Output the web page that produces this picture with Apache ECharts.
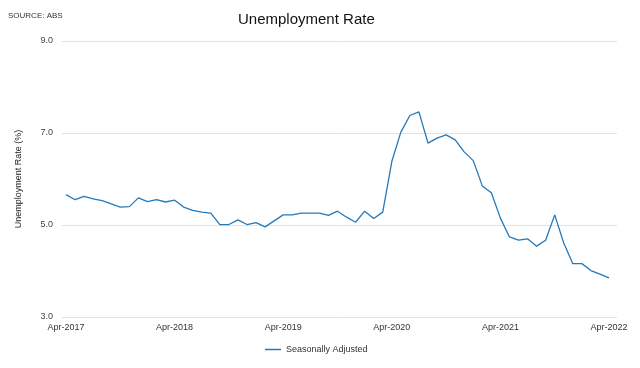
<!DOCTYPE html>
<html>
<head>
<meta charset="utf-8">
<script src="https://cdn.jsdelivr.net/npm/echarts@6/dist/echarts.min.js"></script>
<style>html,body{margin:0;padding:0;background:#fff}#c{width:640px;height:368px}</style>
</head>
<body>
<div id="c"></div>
<script>
var months = [];
var monthNames = ['Jan','Feb','Mar','Apr','May','Jun','Jul','Aug','Sep','Oct','Nov','Dec'];
var startYear = 2017, startMonth = 3, monthCount = 61;
for (var i = 0; i < monthCount; i++) {
  var m = startMonth + i;
  months.push(monthNames[m % 12] + '-' + (startYear + Math.floor(m / 12)));
}
var seasonallyAdjusted = [
  5.66, 5.55, 5.62, 5.57, 5.53, 5.46, 5.39, 5.40, 5.59,
  5.51, 5.55, 5.50, 5.54, 5.39, 5.32, 5.28, 5.26, 5.01, 5.01, 5.11, 5.01,
  5.05, 4.96, 5.09, 5.22, 5.22, 5.26, 5.26, 5.26, 5.21, 5.30, 5.17, 5.06,
  5.30, 5.14, 5.28, 6.38, 7.02, 7.38, 7.46, 6.78, 6.89, 6.96, 6.85, 6.59,
  6.40, 5.85, 5.70, 5.15, 4.74, 4.67, 4.70, 4.54, 4.67, 5.22, 4.61, 4.16,
  4.16, 4.01, 3.93, 3.85
];
var yTicks = [3.0, 5.0, 7.0, 9.0];
var titleText = 'Unemployment Rate';
var sourceText = 'SOURCE: ABS';
var yAxisName = 'Unemployment Rate (%)';
var seriesName = 'Seasonally Adjusted';

var chart = echarts.init(document.getElementById('c'));
var font = 'Liberation Sans, Arial, sans-serif';
var yMin = yTicks[0], yMax = yTicks[yTicks.length - 1];
chart.setOption({
  animation: false,
  textStyle: { fontFamily: font },
  title: [
    { text: titleText, left: 233, top: 7, textStyle: { fontFamily: font, fontSize: 15, fontWeight: 'normal', color: '#111' } },
    { text: sourceText, left: 3, top: 7, textStyle: { fontFamily: font, fontSize: 8, fontWeight: 'normal', color: '#333' } }
  ],
  legend: {
    bottom: 9, left: 260,
    icon: 'rect', itemWidth: 16, itemHeight: 1.5, itemGap: 4,
    textStyle: { fontFamily: font, fontSize: 9, color: '#333' },
    data: [seriesName]
  },
  grid: [
    { left: 66, right: 31, top: 41, bottom: 51, containLabel: false },
    { left: 62, right: 23, top: 41, bottom: 51, containLabel: false }
  ],
  xAxis: [{
    type: 'category', data: months, boundaryGap: false, gridIndex: 0,
    axisLine: { show: false }, axisTick: { show: false },
    axisLabel: { interval: 11, margin: 6, fontSize: 9, color: '#333', fontFamily: font },
    splitLine: { show: false }
  }, {
    type: 'value', gridIndex: 1, show: false, min: 0, max: 1
  }],
  yAxis: [{
    type: 'value', min: yMin, max: yMax, interval: 2, gridIndex: 0,
    name: yAxisName, nameLocation: 'middle', nameGap: 43,
    nameTextStyle: { fontFamily: font, fontSize: 9, color: '#222' },
    axisLine: { show: false }, axisTick: { show: false },
    axisLabel: { fontSize: 9, color: '#444', margin: 13, fontFamily: font, formatter: function (v) { return v.toFixed(1); } },
    splitLine: { show: false }
  }, {
    type: 'value', min: yMin, max: yMax, interval: 2, gridIndex: 1,
    axisLine: { show: false }, axisTick: { show: false }, axisLabel: { show: false },
    splitLine: { lineStyle: { color: '#e3e3e3', width: 1 } }
  }],
  series: [{
    name: seriesName, type: 'line', data: seasonallyAdjusted, xAxisIndex: 0, yAxisIndex: 0,
    showSymbol: false, symbol: 'none', z: 3,
    lineStyle: { color: '#2479bb', width: 1.3 },
    itemStyle: { color: '#2479bb' }
  }]
});
</script>
</body>
</html>
